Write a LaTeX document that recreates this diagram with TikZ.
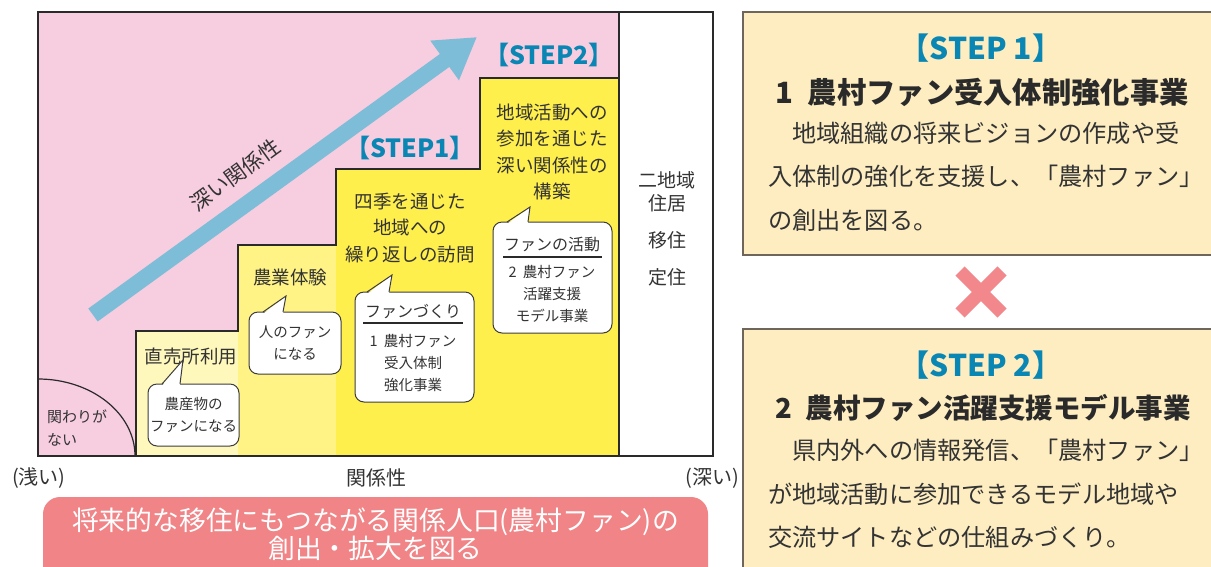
\documentclass[tikz,border=0pt]{standalone}
\usepackage{fontspec}
\setmainfont{Noto Sans CJK JP}
\usetikzlibrary{arrows.meta,calc}
\definecolor{pinkbg}{HTML}{F7CDE0}
\definecolor{yelA}{HTML}{FFF8BC}
\definecolor{yelB}{HTML}{FFF385}
\definecolor{yelC}{HTML}{FFEF4C}
\definecolor{arrblue}{HTML}{7DBDD8}
\definecolor{stepblue}{HTML}{0986B3}
\definecolor{txt}{HTML}{333333}
\definecolor{dark}{HTML}{2A2A2A}
\definecolor{bubline}{HTML}{3C3C3C}
\definecolor{pillred}{HTML}{F08486}
\definecolor{xred}{HTML}{F2888B}
\definecolor{cream}{HTML}{FDEDC1}
\definecolor{boxline}{HTML}{6E665A}
\newcommand\fsz[2]{\fontsize{#1}{#2}\selectfont}
\begin{document}
\begin{tikzpicture}[x=1pt,y=-1pt,
  every node/.style={inner sep=0pt,outer sep=0pt,text=txt},
  outl/.style={draw=dark,line width=1.2pt},
  frameline/.style={draw=dark,line width=1.8pt},
  steplbl/.style={text=stepblue,font=\fsz{25}{28}\bfseries},
  chtxt/.style={font=\fsz{18.5}{26.5},align=center},
  bubble/.style={draw=bubline,fill=white,line width=1pt,rounded corners=9pt},
  bubtxt/.style={font=\fsz{14.5}{22},align=center},
  tailfill/.style={fill=white},
  tailline/.style={draw=bubline,line width=1pt,line join=miter},
  bigstep/.style={text=stepblue,font=\fsz{30}{34}\bfseries},
  head/.style={text=dark,font=\fsz{29.3}{32}\bfseries,anchor=west},
  body/.style={font=\fsz{24.2}{43.5},align=left,anchor=west},
  axis/.style={font=\fsz{20}{22}},
  infobox/.style={draw=boxline,fill=cream,line width=1.3pt}
]
\useasboundingbox (0,0) rectangle (1211,566);

% ---------- chart background ----------
\fill[pinkbg] (38,12) rectangle (619,456);
\fill[yelA] (136,331) rectangle (238,456);
\fill[yelB] (238,245) rectangle (336,456);
\fill[yelC] (336,169) rectangle (480,456);
\fill[yelC] (480,78) rectangle (619,456);
\fill[white] (619,12) rectangle (713,456);
\draw[outl] (136,456) -- (136,331) -- (238,331) -- (238,245) -- (336,245)
  -- (336,169) -- (480,169) -- (480,78) -- (619,78);
\draw[outl] (619,12) -- (619,456);
\draw[outl] (38,379) arc[start angle=-90,end angle=0,x radius=97,y radius=77];
\draw[frameline] (38,12) rectangle (713,456);

% ---------- big arrow ----------
\coordinate (arrS) at (93,315);
\coordinate (arrE) at (477,37);
\draw[arrblue,line width=16pt,-{Triangle[length=40pt,width=46pt]}] (arrS) -- (arrE);
\node[rotate=35.9,font=\fsz{21}{24}] (deep) at (235,175) {深い関係性};

% ---------- step labels ----------
\node[steplbl] (s1) at (410,148) {【STEP1】};
\node[steplbl] (s2) at (549,55) {【STEP2】};

\node[chtxt] (t1) at (191,356) {直売所利用};
\node[chtxt] (t2) at (290,277) {農業体験};
\node[chtxt] (t3) at (410,228) {四季を通じた\\地域への\\繰り返しの訪問};
\node[chtxt] (t4) at (552,152) {地域活動への\\参加を通じた\\深い関係性の\\構築};
\node[font=\fsz{15}{23},align=left,anchor=west] (t0) at (47,428.5) {関わりが\\ない};

\node[chtxt,font=\fsz{19}{23}] (w1) at (667,191.5) {二地域\\住居};
\node[chtxt,font=\fsz{19}{23}] (w2) at (667,240) {移住};
\node[chtxt,font=\fsz{19}{23}] (w3) at (667,277) {定住};

% ---------- bubbles ----------
\node[bubble,minimum width=91pt,minimum height=62pt] (b1) at (193.5,415) {};
\node[bubtxt] at (b1) {農産物の\\ファンになる};
\node[bubble,minimum width=92pt,minimum height=62pt] (b2) at (295,343) {};
\node[bubtxt] at (b2) {人のファン\\になる};
\node[bubble,minimum width=119pt,minimum height=110pt] (b3) at (414.5,347) {};
\node[bubble,minimum width=119pt,minimum height=111pt] (b4) at (552.5,277.5) {};

% tails
\foreach \b/\l/\r/\tx/\ty in {b1/14/32/35/24, b2/14/34/37/16, b3/12/34/37/17, b4/14/35/37/15}{
  \fill[tailfill] ([xshift=\l pt,yshift=-2pt]\b.north west) -- ([xshift=\tx pt,yshift=\ty pt]\b.north west)
     -- ([xshift=\r pt,yshift=-2pt]\b.north west) -- cycle;
  \draw[tailline] ([xshift=\l pt]\b.north west) -- ([xshift=\tx pt,yshift=\ty pt]\b.north west)
     -- ([xshift=\r pt]\b.north west);
}

% bubble 3 content
\node[bubtxt,font=\fsz{16}{18}] (b3t) at (413,312) {ファンづくり};
\draw[draw=dark,line width=1.3pt] (363,323) -- (463,323);
\node[bubtxt] (b3b) at (413,363) {1\hspace{6pt}農村ファン\\受入体制\\強化事業};
% bubble 4 content
\node[bubtxt,font=\fsz{16}{18}] (b4t) at (552,244) {ファンの活動};
\draw[draw=dark,line width=1.3pt] (503,257) -- (602,257);
\node[bubtxt] (b4b) at (552,294) {2\hspace{6pt}農村ファン\\活躍支援\\モデル事業};

% ---------- axis ----------
\node[axis] (ax1) at (39,478) {(浅い)};
\node[axis] (ax2) at (376,478) {関係性};
\node[axis] (ax3) at (712,478) {(深い)};

% ---------- pill ----------
\fill[pillred,rounded corners=17pt] (43,497) rectangle (708,590);
\node[text=white,font=\fsz{26.8}{28.5},align=center] (pill) at (375.5,534)
  {将来的な移住にもつながる関係人口(農村ファン)の\\創出・拡大を図る};

% ---------- right boxes ----------
\draw[infobox] (743,12) rectangle (1225,255);
\node[bigstep] (r1) at (981,48) {【STEP 1】};
\node[head] (h1) at (775,92) {1\hspace{15pt}農村ファン受入体制強化事業};
\node[body] (p1) at (768,176.5) {　地域組織の将来ビジョンの作成や受\\入体制の強化を支援し、「農村ファン」\\の創出を図る。};

\draw[xred,line width=13pt] (960,271) -- (1002,313);
\draw[xred,line width=13pt] (1002,271) -- (960,313);

\draw[infobox] (743,329) rectangle (1225,600);
\node[bigstep] (r2) at (981,365) {【STEP 2】};
\node[head,font=\fsz{27.5}{32}\bfseries] (h2) at (775,408) {2\hspace{14pt}農村ファン活躍支援モデル事業};
\node[body] (p2) at (768,494) {　県内外への情報発信、「農村ファン」\\が地域活動に参加できるモデル地域や\\交流サイトなどの仕組みづくり。};
\end{tikzpicture}
\end{document}
